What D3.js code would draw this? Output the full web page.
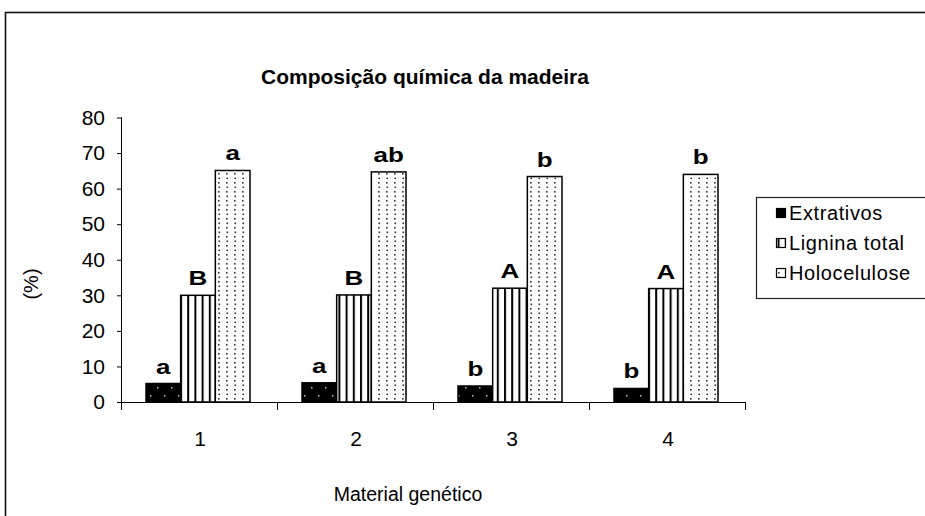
<!DOCTYPE html>
<html>
<head>
<meta charset="utf-8">
<script src="https://cdn.jsdelivr.net/npm/d3@7/dist/d3.min.js"></script>
<style>
  html, body { margin: 0; padding: 0; background: #fff; }
  svg { display: block; font-family: Arial, "Liberation Sans", sans-serif; }
</style>
</head>
<body>
<svg id="chart" width="925" height="516"></svg>
<script>
// Composição química da madeira por material genético
const categories = ["1", "2", "3", "4"];
const seriesNames = ["Extrativos", "Lignina total", "Holocelulose"];
const extrativos = [5.2, 5.4, 4.5, 3.8];
const lignina = [30.0, 30.1, 32.0, 31.9];
const holocelulose = [65.1, 64.7, 63.4, 64.0];
const extrativosLetters = ["a", "a", "b", "b"];
const ligninaLetters = ["B", "B", "A", "A"];
const holoLetters = ["a", "ab", "b", "b"];
const yTicks = [0, 10, 20, 30, 40, 50, 60, 70, 80];

const seriesValues = [extrativos, lignina, holocelulose];
const seriesLetters = [extrativosLetters, ligninaLetters, holoLetters];

const svg = d3.select("#chart");
const defs = svg.append("defs");

// fill patterns: black with white dots, vertical stripes, fine dots
const pExt = defs.append("pattern").attr("id", "pExt")
  .attr("patternUnits", "userSpaceOnUse").attr("width", 14).attr("height", 16);
pExt.append("rect").attr("width", 14).attr("height", 16).attr("fill", "#000");
pExt.append("rect").attr("x", 3).attr("y", 3).attr("width", 1.5).attr("height", 1.5).attr("fill", "#bbb");
pExt.append("rect").attr("x", 10).attr("y", 11).attr("width", 1.5).attr("height", 1.5).attr("fill", "#bbb");

const pLig = defs.append("pattern").attr("id", "pLig")
  .attr("patternUnits", "userSpaceOnUse").attr("width", 7.2).attr("height", 7);
pLig.append("rect").attr("width", 7.2).attr("height", 7).attr("fill", "#fff");
pLig.append("rect").attr("x", 0).attr("y", 0).attr("width", 2).attr("height", 7).attr("fill", "#000");

const pHolo = defs.append("pattern").attr("id", "pHolo")
  .attr("patternUnits", "userSpaceOnUse").attr("width", 8).attr("height", 9);
pHolo.append("rect").attr("width", 8).attr("height", 9).attr("fill", "#fff");
pHolo.append("rect").attr("x", 2).attr("y", 2).attr("width", 1.6).attr("height", 1.6).attr("fill", "#333");
pHolo.append("rect").attr("x", 2.5).attr("y", 6.5).attr("width", 1.6).attr("height", 1.6).attr("fill", "#333");

const fills = ["url(#pExt)", "url(#pLig)", "url(#pHolo)"];

// outer chart frame
svg.append("rect").attr("x", 5.5).attr("y", 12.5).attr("width", 930).attr("height", 520)
  .attr("fill", "none").attr("stroke", "#111").attr("stroke-width", 1.6);

const plot = { left: 122, right: 746, top: 117.5, bottom: 402 };

const x0 = d3.scaleBand().domain(categories).range([plot.left, plot.right]).paddingInner(0).paddingOuter(0);
const barW = x0.bandwidth() / 4.5;
const x1 = d3.scaleBand().domain(d3.range(3)).range([0, barW * 3]);
const y = d3.scaleLinear().domain([0, 80]).range([plot.bottom, plot.top]);

// title
svg.append("text").attr("x", 425).attr("y", 84).attr("text-anchor", "middle")
  .attr("font-weight", "bold").attr("font-size", 21).text("Composição química da madeira");

// y axis
const yAxis = svg.append("g").attr("transform", `translate(${plot.left},0)`)
  .call(d3.axisLeft(y).tickValues(yTicks).tickSize(5).tickPadding(12).tickFormat(d3.format("d")));
yAxis.select(".domain").attr("stroke", "#000").attr("d", `M-0.5,${plot.top}V${plot.bottom}`);
yAxis.selectAll(".tick line").attr("stroke", "#000");
yAxis.selectAll(".tick text").attr("font-size", 21).attr("font-family", "Arial, 'Liberation Sans', sans-serif").attr("fill", "#000");

// x axis with ticks at category boundaries
const xg = svg.append("g").attr("transform", `translate(0,${plot.bottom})`);
xg.append("line").attr("x1", plot.left - 5).attr("x2", plot.right).attr("y1", 0.5).attr("y2", 0.5)
  .attr("stroke", "#000");
const bounds = categories.map(c => x0(c)).concat([plot.right]);
xg.selectAll(".bt").data(bounds).join("line")
  .attr("x1", d => Math.round(d) - 0.5).attr("x2", d => Math.round(d) - 0.5)
  .attr("y1", 0).attr("y2", 8).attr("stroke", "#000");
xg.selectAll(".cl").data(categories).join("text")
  .attr("x", d => x0(d) + x0.bandwidth() / 2).attr("y", 44)
  .attr("text-anchor", "middle").attr("font-size", 21).text(d => d);

// bars with significance letters above them
const groupOffset = (x0.bandwidth() - barW * 3) / 2;
seriesValues.forEach((vals, si) => {
  const g = svg.append("g");
  g.selectAll("rect").data(vals).join("rect")
    .attr("x", (d, i) => x0(categories[i]) + groupOffset + x1(si) - 2)
    .attr("y", d => y(d))
    .attr("width", barW)
    .attr("height", d => y(0) - y(d))
    .attr("fill", fills[si]).attr("stroke", "#000").attr("stroke-width", 1.5);
  g.selectAll("text").data(vals).join("text")
    .attr("transform", (d, i) =>
      `translate(${x0(categories[i]) + groupOffset + x1(si) - 2 + barW / 2},${y(d) - 10}) scale(1.3,1)`)
    .attr("text-anchor", "middle").attr("font-weight", "bold").attr("font-size", 20)
    .text((d, i) => seriesLetters[si][i]);
});

// axis titles
svg.append("text").attr("transform", "translate(38,284) rotate(-90)")
  .attr("text-anchor", "middle").attr("font-size", 20).text("(%)");
svg.append("text").attr("x", 408).attr("y", 501).attr("text-anchor", "middle")
  .attr("font-size", 19.5).text("Material genético");

// legend
const lg = svg.append("g");
lg.append("rect").attr("x", 756.5).attr("y", 197.5).attr("width", 200).attr("height", 101)
  .attr("fill", "#fff").attr("stroke", "#222").attr("stroke-width", 1.2);
seriesNames.forEach((name, i) => {
  const cy = 213 + i * 30;
  lg.append("rect").attr("x", 776.5).attr("y", cy - 4.5).attr("width", 9).attr("height", 9)
    .attr("fill", fills[i]).attr("stroke", "#000").attr("stroke-width", 1.2);
  lg.append("text").attr("x", 789).attr("y", cy + 7).attr("font-size", 20)
    .attr("letter-spacing", 0.6).text(name);
});
</script>
</body>
</html>
